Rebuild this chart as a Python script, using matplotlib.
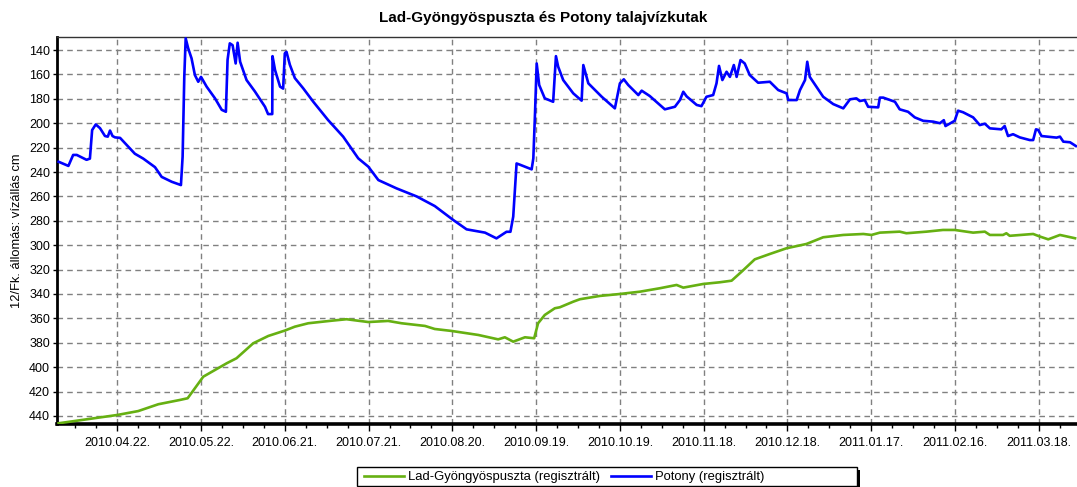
import matplotlib
matplotlib.use("Agg")
import matplotlib.pyplot as plt
import matplotlib.dates as mdates
from matplotlib.patches import Rectangle
import numpy as np
import pandas as pd

# ---------------- data ----------------
START = "2010-04-01"
TITLE = "Lad-Gyöngyöspuszta és Potony talajvízkutak"
YLABEL = "12/Fk. állomás: vízállás cm"
LAD_NAME = "Lad-Gyöngyöspuszta (regisztrált)"
POT_NAME = "Potony (regisztrált)"

# Potony: days since START, water level (cm)
pot_days = [0.0, 3.5, 5.2, 6.5, 10.0, 11.2, 12.0, 13.3, 14.8, 16.6, 17.6, 18.4, 19.3, 20.2,
            22.0, 27.3, 30.3, 34.5, 36.9, 40.5, 43.8, 44.4, 45.0, 45.5, 46.4, 47.6, 48.8,
            50.0, 51.0, 53.0, 56.0, 58.4, 59.9, 60.5, 61.3, 62.3, 63.4, 64.1, 65.0, 67.3,
            70.3, 73.9, 75.0, 76.5, 76.6, 77.5, 79.3, 80.4, 81.0, 81.6, 82.8, 84.6, 87.6,
            91.2, 96.5, 101.9, 107.3, 110.9, 114.5, 121.0, 128.2, 134.7, 141.3, 146.1,
            152.7, 156.8, 160.4, 161.8, 162.8, 164.0, 165.2, 169.4, 170.0, 170.6, 171.2,
            172.1, 174.1, 177.1, 178.1, 178.9, 180.7, 184.3, 187.3, 187.9, 189.7, 194.5,
            199.2, 201.0, 202.4, 204.0, 207.6, 208.8, 211.7, 217.1, 220.7, 222.5, 223.7,
            224.9, 228.5, 230.2, 232.0, 234.4, 235.6, 236.5, 237.7, 239.2, 240.4, 241.8,
            242.8, 244.2, 245.7, 247.5, 250.5, 254.7, 257.7, 260.7, 261.3, 264.3, 265.5,
            267.3, 268.1, 269.0, 273.8, 277.4, 281.0, 283.4, 285.7, 286.9, 288.7, 289.9,
            293.5, 294.1, 295.3, 299.5, 301.2, 304.2, 306.6, 309.6, 313.2, 315.6, 317.0,
            317.6, 320.9, 322.1, 323.9, 327.5, 329.9, 331.7, 333.5, 337.6, 338.8, 340.0,
            341.8, 344.2, 347.8, 349.0, 350.0, 350.8, 352.0, 357.4, 358.6, 359.8, 362.2,
            364.3]
pot_level = [231.6, 235, 226, 226, 230, 229, 205.6, 201, 204, 210.5, 211, 206, 210.5, 211.6,
             212, 225, 229, 236, 244, 248, 250.7, 227.5, 162, 130.4, 138.6, 146.8, 160.5,
             166, 162, 170, 179.6, 189, 190.6, 148, 134.5, 136, 151, 134, 149.6, 164.6,
             174, 186.5, 192.5, 192.5, 145, 156.4, 170, 171.6, 142.7, 141.5, 152, 163, 171.4,
             182.4, 197.4, 211, 228.8, 235.6, 246.6, 253.4, 260, 267.9, 279.3, 287,
             289.7, 294.4, 289, 289, 276.6, 233, 234, 237.8, 228.8, 192, 151,
             168.7, 179.6, 182.4, 145.0, 153.7, 164.6, 175.5, 181.5, 152.3, 167.3, 178.3,
             187.8, 167.3, 164, 168.7, 176.9, 173.3, 177.7, 188.6, 186.5, 181, 174.2,
             178, 185, 186, 178.3, 176.9, 167.3, 153, 164.6, 157.8, 162, 152.3,
             162, 148.2, 151, 160.5, 166.8, 166, 172.8, 175.5, 181, 181, 172.8,
             164.6, 149.6, 162, 178.3, 184.3, 187.8, 180.4, 179.6, 181.8, 181, 186.5,
             187, 179, 179, 182.4, 188.6, 190.6, 195.2, 198, 198.7, 200, 197.5,
             202.3, 198, 189.7, 191, 195.2, 201.5, 200.4, 204.2, 205, 202.3, 210.5,
             209, 211.6, 213.8, 213.8, 205, 205.5, 210.5, 211.8, 211, 215.1, 215.6,
             218.7]

# Lad-Gyöngyöspuszta: days since START, water level (cm)
lad_days = [0.0, 5.9, 21.0, 28.5, 35.7, 43.4, 46.2, 48.8, 51.8, 56.0, 60.2, 63.7, 69.7,
            75.1, 81.0, 84.6, 89.4, 97.8, 103.1, 110.9, 118.0, 122.8, 131.2, 134.7, 140.7,
            150.3, 157.4, 159.8, 162.8, 167.0, 170.3, 171.7, 174.1, 177.7, 179.5, 184.3,
            186.7, 193.8, 201.0, 208.2, 215.3, 221.3, 223.7, 230.8, 236.8, 241.0, 244.6,
            249.3, 254.7, 260.7, 267.8, 273.8, 281.0, 288.2, 291.1, 294.1, 301.2, 303.6,
            310.8, 316.7, 320.9, 327.5, 331.7, 333.5, 338.2, 339.4, 340.6, 349.0, 351.4,
            354.4, 358.6, 364.0]
lad_level = [446, 444.1, 439.2, 436, 430.4, 426.9, 425.5, 417.3, 407.8, 402.3, 396.8, 392.7,
             380.4, 374.4, 370, 366.8, 364, 361.9, 360.7, 363, 362.1, 364, 366.2, 368.7,
             370.3, 373.6, 377.2, 375.5, 379.1, 375.5, 376.3, 364, 357.2, 351.7, 350.9,
             346.3, 344.3, 341.6, 340, 338.1, 335.3, 332.6, 334.8, 331.8, 330.4, 329.1,
             321.7, 311.6, 307.2, 302.5, 299, 293.5, 291.6, 290.8, 291.6, 289.7, 288.9,
             290.2, 288.9, 287.5, 287.5, 289.7, 288.9, 291.6, 291.6, 290.2, 292.3, 290.8,
             292.9, 295.2, 291.6, 294.3]

x_tick_dates = ["2010-04-22", "2010-05-22", "2010-06-21", "2010-07-21", "2010-08-20",
                "2010-09-19", "2010-10-19", "2010-11-18", "2010-12-18", "2011-01-17",
                "2011-02-16", "2011-03-18"]
y_ticks = [140, 160, 180, 200, 220, 240, 260, 280, 300, 320, 340, 360, 380, 400, 420, 440]

# ---------------- plot ----------------
plt.rcParams['font.family'] = ['Liberation Sans', 'DejaVu Sans']

W, H = 1077, 487
fig = plt.figure(figsize=(W / 100, H / 100), dpi=100)
ax = fig.add_axes([57 / W, 1 - 424 / H, (1077 - 57) / W, (424 - 37) / H])

start = pd.Timestamp(START)
pot_t = start + pd.to_timedelta(pot_days, unit="D")
lad_t = start + pd.to_timedelta(lad_days, unit="D")

GREEN = "#66b012"
BLUE = "#0000ff"
l1, = ax.plot(lad_t, lad_level, color=GREEN, lw=1.9, label=LAD_NAME, zorder=3)
l2, = ax.plot(pot_t, pot_level, color=BLUE, lw=1.9, label=POT_NAME, zorder=3)

x0 = start - pd.Timedelta(hours=14)
x1 = start + pd.Timedelta(days=364.7)
x0n, x1n = mdates.date2num(x0), mdates.date2num(x1)

major = [mdates.date2num(pd.Timestamp(d)) for d in x_tick_dates]
minor = []
for m in major:
    for k in (-3, -2, -1, 1, 2, 3):
        minor.append(m + k * 7.5)
minor = sorted(set(v for v in minor if x0n <= v <= x1n and all(abs(v - mm) > 1 for mm in major)))
ax.set_xticks(major)
ax.set_xticks(minor, minor=True)
ax.xaxis.set_major_formatter(mdates.DateFormatter("%Y.%m.%d."))
ax.set_yticks(y_ticks)

ax.set_xlim(x0n, x1n)
ax.set_ylim(446.6, 129.3)

ax.tick_params(axis="x", which="major", length=5, width=1, labelsize=9, pad=4, color="black")
ax.tick_params(axis="x", which="minor", length=3, width=1, color="black")
ax.tick_params(axis="y", which="major", length=3, width=1, labelsize=9, pad=2)

ax.grid(True, which="major", color="#808080", lw=1, ls=(0, (4, 3)))
ax.set_axisbelow(True)

ax.spines["left"].set_linewidth(2)
ax.spines["bottom"].set_linewidth(2.6)
ax.spines["top"].set_linewidth(1)
ax.spines["top"].set_color("#333333")
ax.spines["right"].set_visible(False)

ax.set_ylabel(YLABEL, fontsize=9.3, labelpad=4)

fig.text(0.504, 1 - 18 / H, TITLE, ha="center", va="center", fontsize=11, fontweight="bold")

# legend with frame + shadow
bx0, by0, bw, bh = 357 / W, 1 - 486 / H, 500 / W, 19 / H
fig.patches.append(Rectangle((bx0 + 3 / W, by0 - 3 / H), bw, bh, transform=fig.transFigure,
                             facecolor="black", edgecolor="none", zorder=1))
fig.patches.append(Rectangle((bx0, by0), bw, bh, transform=fig.transFigure,
                             facecolor="white", edgecolor="black", lw=1, zorder=2))
leg = fig.legend(handles=[l1, l2], loc="center left",
                 bbox_to_anchor=(364 / W, 1 - 477 / H), ncol=2, frameon=False,
                 fontsize=9.4, handlelength=3.1, handletextpad=0.3, columnspacing=0.8,
                 borderpad=0, borderaxespad=0)
leg.set_zorder(5)

fig.savefig("out.png", dpi=100)
